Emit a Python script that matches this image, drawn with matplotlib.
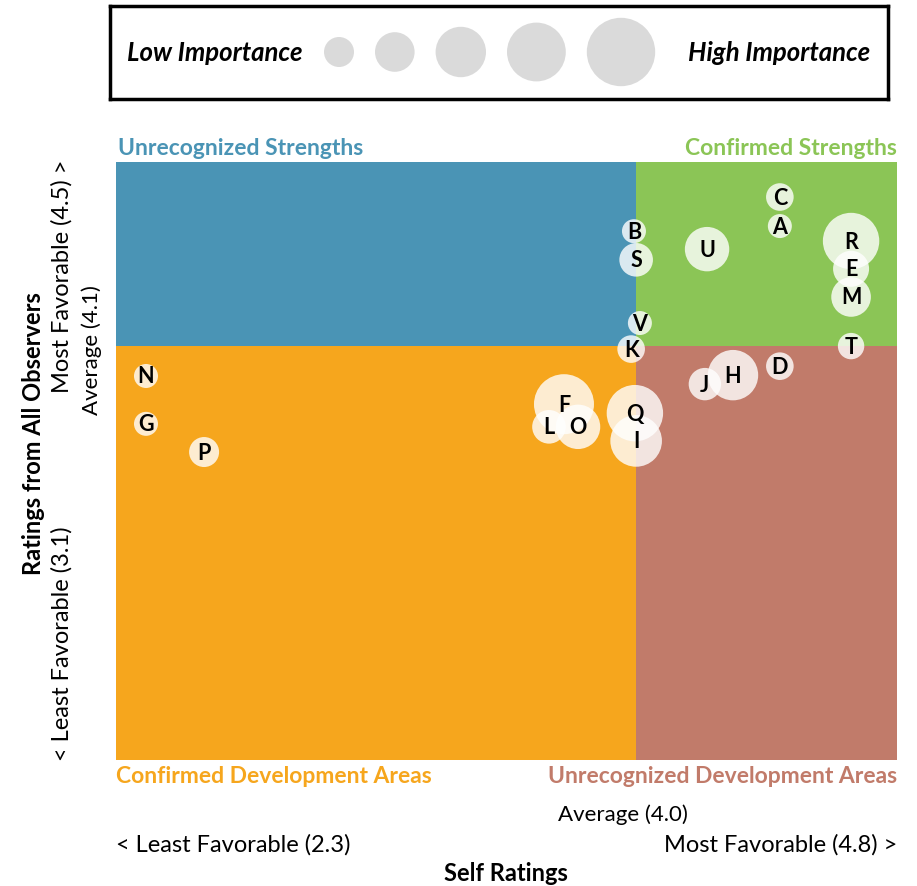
import numpy as np
import matplotlib.pyplot as plt

plt.rcParams['font.family'] = ['Lato', 'DejaVu Sans']

# data
labels = ['A', 'B', 'C', 'D', 'E', 'F', 'G', 'H', 'I', 'J', 'K',
          'L', 'M', 'N', 'O', 'P', 'Q', 'R', 'S', 'T', 'U', 'V']
self_rating = [4.425, 3.958, 4.425, 4.425, 4.653, 3.734, 2.396, 4.275, 3.965, 4.185, 3.949,
               3.686, 4.653, 2.396, 3.779, 2.582, 3.961, 4.653, 3.965, 4.653, 4.192, 3.977]
observer_rating = [4.350, 4.338, 4.418, 4.022, 4.250, 3.933, 3.887, 4.001, 3.847, 3.980, 4.062,
                   3.880, 4.184, 3.999, 3.880, 3.821, 3.912, 4.315, 4.271, 4.069, 4.296, 4.123]
importance = [2.0, 2.0, 2.3, 2.3, 3.0, 5.0, 2.0, 4.2, 4.3, 2.7, 2.3,
              2.8, 3.3, 2.0, 3.7, 2.5, 4.7, 4.7, 2.8, 2.2, 3.7, 2.0]
legend_importance = [2.5, 3.3, 4.2, 4.9, 5.7]

x_min, x_max, x_avg = 2.3, 4.8, 3.965
y_min, y_max, y_avg = 3.1, 4.5, 4.069

blue = '#4A94B5'
green = '#8BC556'
orange = '#F6A61D'
brown = '#C17B6A'

DPI = 100


def radius_px(imp):
    return 6.0 * np.asarray(imp)


def marker_size(imp):
    # scatter size in points^2 from radius in pixels
    return (2 * radius_px(imp) * 72.0 / DPI) ** 2


fig = plt.figure(figsize=(9.17, 8.87), dpi=DPI)
W, H = 917, 887

###############################################################################
# legend box
###############################################################################
lax = fig.add_axes([110 / W, 1 - 100 / H, 778 / W, 93 / H])
lax.set_xlim(0, 778)
lax.set_ylim(0, 93)
lax.set_xticks([])
lax.set_yticks([])
for sp in lax.spines.values():
    sp.set_linewidth(2.5)
    sp.set_color('black')

r_leg = radius_px(legend_importance)
gap = 21
cx = [229]
for i in range(1, len(r_leg)):
    cx.append(cx[-1] + r_leg[i - 1] + gap + r_leg[i])
lax.scatter(cx, [47] * len(cx), s=marker_size(legend_importance),
            color='#DADADA', edgecolors='none')
lax.text(17, 47, 'Low Importance', fontsize=18.5, fontweight='bold',
         fontstyle='italic', ha='left', va='center')
lax.text(760, 47, 'High Importance', fontsize=18.5, fontweight='bold',
         fontstyle='italic', ha='right', va='center')

###############################################################################
# quadrant chart
###############################################################################
ax = fig.add_axes([116 / W, 1 - 761 / H, 781 / W, 598 / H])
ax.set_xlim(x_min, x_max)
ax.set_ylim(y_min, y_max)
split = (y_avg - y_min) / (y_max - y_min)
ax.axvspan(x_min, x_avg, ymin=split, ymax=1, color=blue, lw=0)
ax.axvspan(x_avg, x_max, ymin=split, ymax=1, color=green, lw=0)
ax.axvspan(x_min, x_avg, ymin=0, ymax=split, color=orange, lw=0)
ax.axvspan(x_avg, x_max, ymin=0, ymax=split, color=brown, lw=0)
ax.set_xticks([])
ax.set_yticks([])
for sp in ax.spines.values():
    sp.set_visible(False)

for i, lab in enumerate(labels):
    ax.scatter(self_rating[i], observer_rating[i], s=marker_size(importance[i]),
               color='white', alpha=0.8, edgecolors='none', zorder=3)
for i, lab in enumerate(labels):
    ax.text(self_rating[i], observer_rating[i], lab, fontsize=15.5, fontweight='bold',
            ha='center', va='center', zorder=5)

# quadrant titles
ax.text(0.003, 1.006, 'Unrecognized Strengths', transform=ax.transAxes, color=blue,
        fontsize=16.5, fontweight='bold', ha='left', va='bottom')
ax.text(1.0, 1.006, 'Confirmed Strengths', transform=ax.transAxes, color=green,
        fontsize=16.5, fontweight='bold', ha='right', va='bottom')
ax.text(0.0, -0.008, 'Confirmed Development Areas', transform=ax.transAxes, color=orange,
        fontsize=16.5, fontweight='bold', ha='left', va='top')
ax.text(1.0, -0.008, 'Unrecognized Development Areas', transform=ax.transAxes, color=brown,
        fontsize=16.5, fontweight='bold', ha='right', va='top')

# axis descriptions
fig.text(623 / W, 1 - 815 / H, 'Average (4.0)', fontsize=16, ha='center', va='center')
fig.text(116 / W, 1 - 845 / H, '< Least Favorable (2.3)', fontsize=17, ha='left', va='center')
fig.text(897 / W, 1 - 845 / H, 'Most Favorable (4.8) >', fontsize=17, ha='right', va='center')
fig.text(506 / W, 1 - 874 / H, 'Self Ratings', fontsize=17, fontweight='bold',
         ha='center', va='center')

fig.text(34 / W, 1 - 434 / H, 'Ratings from All Observers', fontsize=17, fontweight='bold',
         rotation=90, ha='center', va='center')
fig.text(62 / W, 1 - 160 / H, 'Most Favorable (4.5) >', fontsize=17, rotation=90,
         ha='center', va='top')
fig.text(92 / W, 1 - 350 / H, 'Average (4.1)', fontsize=16, rotation=90,
         ha='center', va='center')
fig.text(62 / W, 1 - 761 / H, '< Least Favorable (3.1)', fontsize=17, rotation=90,
         ha='center', va='bottom')

fig.savefig('out.png', dpi=DPI)
